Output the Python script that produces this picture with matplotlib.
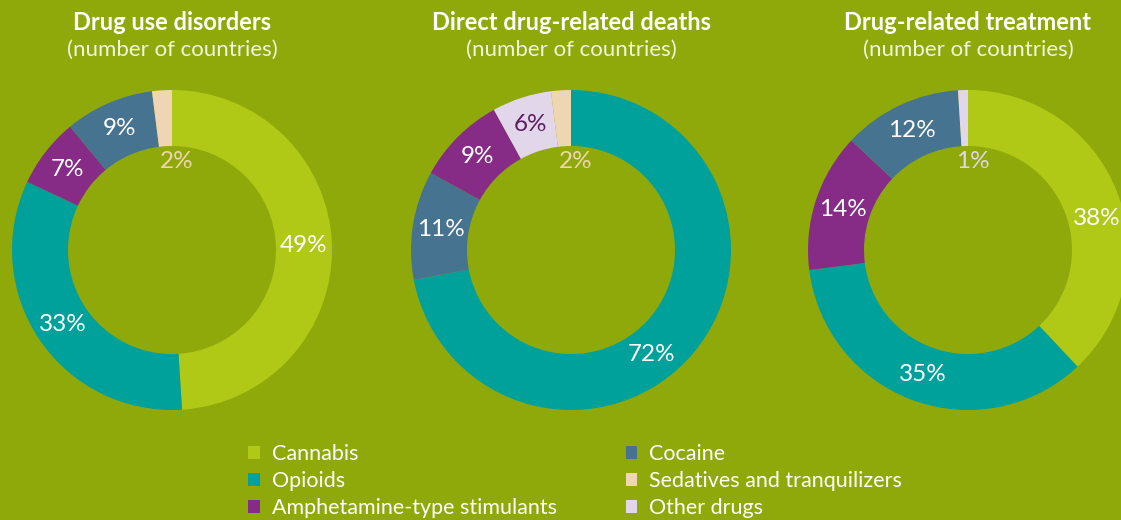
import matplotlib
matplotlib.use("Agg")
import matplotlib.pyplot as plt
from matplotlib.patches import Patch
import numpy as np

plt.rcParams['font.family'] = ['Lato', 'DejaVu Sans']

BG = '#8FA90B'
categories = ['Cannabis', 'Opioids', 'Amphetamine-type stimulants', 'Cocaine',
              'Other drugs', 'Sedatives and tranquilizers']
colors = ['#AFC916', '#00A19A', '#862C87', '#467390', '#E2D6EA', '#EFD6B2']

titles = ['Drug use disorders', 'Direct drug-related deaths', 'Drug-related treatment']
subtitle = '(number of countries)'
# percentages per category (same order as `categories`)
disorders = [49, 33, 7, 9, 0, 2]
deaths = [0, 72, 9, 11, 6, 2]
treatment = [38, 35, 14, 12, 1, 0]
series = [disorders, deaths, treatment]

# clockwise drawing order of the categories in each donut
order_disorders = [0, 1, 2, 3, 4, 5]
order_deaths = [0, 1, 3, 2, 4, 5]
order_treatment = [0, 1, 2, 3, 4, 5]
orders = [order_disorders, order_deaths, order_treatment]

legend_order = ['Cannabis', 'Opioids', 'Amphetamine-type stimulants', 'Cocaine',
                'Sedatives and tranquilizers', 'Other drugs']

W, H = 1121, 520
fig = plt.figure(figsize=(W / 100, H / 100), dpi=100, facecolor=BG)
ax = fig.add_axes([0, 0, 1, 1])
ax.set_facecolor(BG)

centers_x = [172, 571, 968]
cy = H - 250
R_out = 160
width = 56
R_mid = R_out - width / 2

label_colors = {'Other drugs': '#5B1E5E'}
# manual label angle nudges (degrees), per chart and category index
nudges = {(1, 1): -13, (2, 0): -8}

for k, (cx, vals, order, title) in enumerate(zip(centers_x, series, orders, titles)):
    idx = [i for i in order if vals[i] > 0]
    v = [vals[i] for i in idx]
    c = [colors[i] for i in idx]
    wedges, _ = ax.pie(v, colors=c, startangle=90, counterclock=False,
                       center=(cx, cy), radius=R_out,
                       wedgeprops=dict(width=width, linewidth=0))
    for w, i, val in zip(wedges, idx, v):
        if val < 3:
            a = np.deg2rad(87)
            r = 89
            col = colors[i]
        else:
            a = np.deg2rad((w.theta1 + w.theta2) / 2 + nudges.get((k, i), 0))
            r = R_mid
            col = label_colors.get(categories[i], 'white')
        ax.text(cx + r * np.cos(a), cy + r * np.sin(a), f'{val}%',
                ha='center', va='center', fontsize=17.5, color=col)
    ax.text(cx, H - 23, title, ha='center', va='center', fontsize=17,
            fontweight='bold', color='white')
    ax.text(cx, H - 50, subtitle, ha='center', va='center', fontsize=16,
            fontweight='normal', color='#F2F5DC')

ax.set_xlim(0, W)
ax.set_ylim(0, H)
ax.set_aspect('equal')
ax.axis('off')

handles = [Patch(facecolor=colors[categories.index(n)], edgecolor='none') for n in legend_order]
leg = ax.legend(handles, legend_order, ncol=2, loc='upper left',
                bbox_to_anchor=(248 / W, 1 - 444 / H), frameon=False,
                fontsize=15.5, handlelength=0.55, handleheight=0.55,
                handletextpad=0.55, columnspacing=3.2, labelspacing=0.33,
                borderaxespad=0, borderpad=0)
for t in leg.get_texts():
    t.set_color('white')

fig.savefig('out.png', dpi=100, facecolor=BG)
